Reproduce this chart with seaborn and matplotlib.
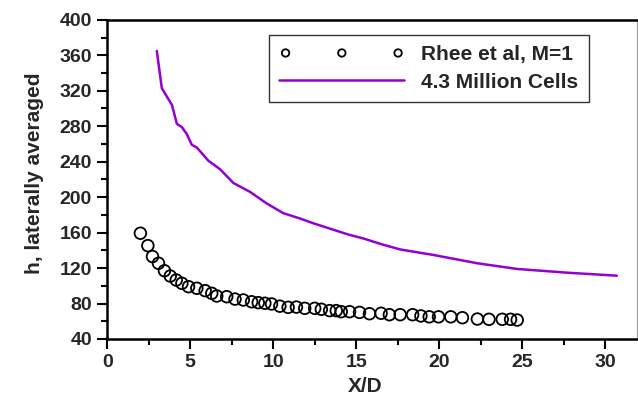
import matplotlib
matplotlib.use("Agg")
import matplotlib.pyplot as plt
import seaborn as sns
import pandas as pd
from matplotlib.ticker import MultipleLocator

sns.set_style("white")
plt.rcParams['font.family'] = ['Liberation Sans', 'DejaVu Sans']

# Experimental data (Rhee et al, M=1)
exp_x = [2.0, 2.45, 2.73, 3.09, 3.45, 3.8, 4.16, 4.5, 4.9, 5.4, 5.9, 6.3, 6.6, 7.2, 7.7,
         8.2, 8.7, 9.1, 9.5, 9.9, 10.4, 10.9, 11.4, 11.9, 12.5, 12.9, 13.4, 13.8, 14.1,
         14.6, 15.2, 15.8, 16.5, 17.0, 17.65, 18.4, 18.9, 19.4, 19.96, 20.7, 21.4, 22.3,
         23.0, 23.8, 24.3, 24.7]
exp_h = [159.3, 145.3, 133.0, 125.4, 117.0, 111.0, 106.5, 102.8, 99.0, 97.2, 94.5, 91.5,
         88.5, 87.7, 85.0, 84.0, 82.0, 81.0, 80.3, 79.5, 77.0, 75.7, 76.0, 74.6, 74.6,
         73.5, 72.0, 72.0, 70.8, 70.8, 70.0, 68.5, 69.0, 67.4, 67.4, 67.4, 66.0, 65.0,
         65.0, 65.0, 64.0, 62.5, 62.2, 62.2, 62.2, 61.4]

# Simulation (4.3 Million Cells)
sim_x = [2.99, 3.29, 3.9, 4.2, 4.5, 4.8, 5.1, 5.4, 6.1, 6.8, 7.6, 8.6, 9.6, 10.6, 11.6,
         12.5, 13.5, 14.5, 15.5, 16.5, 17.65, 19.65, 22.3, 24.7, 27.7, 30.7]
sim_h = [365, 323, 304, 282.6, 279, 271, 259, 256, 241, 231.5, 216, 206, 193, 182, 176,
         170, 164, 158, 153, 147, 141, 134.8, 125.4, 119, 114.8, 111.4]

exp_df = pd.DataFrame({"x": exp_x, "h": exp_h})
sim_df = pd.DataFrame({"x": sim_x, "h": sim_h})

fig = plt.figure(figsize=(6.38, 4.05), dpi=100)
ax = fig.add_axes([0.168, 0.163, 0.83, 0.788])

sns.scatterplot(data=exp_df, x="x", y="h", ax=ax, marker="o", s=70,
                facecolor="none", edgecolor="black", linewidth=1.3,
                label="Rhee et al, M=1", legend=False)
sns.lineplot(data=sim_df, x="x", y="h", ax=ax, color="#9400D3", linewidth=1.8,
             label="4.3 Million Cells", legend=False)

ax.set_xlim(0, 31.9)
ax.set_ylim(40, 400)
ax.xaxis.set_major_locator(MultipleLocator(5))
ax.xaxis.set_minor_locator(MultipleLocator(2.5))
ax.yaxis.set_major_locator(MultipleLocator(40))
ax.yaxis.set_minor_locator(MultipleLocator(20))
ax.tick_params(which="major", direction="out", length=7, width=1.5,
               labelsize=14, bottom=True, left=True, color="black", pad=4)
ax.tick_params(which="minor", direction="out", length=4, width=1.5,
               bottom=True, left=True, color="black")
for lab in ax.get_xticklabels() + ax.get_yticklabels():
    lab.set_fontweight("bold")

ax.set_xlabel("X/D", fontsize=15, fontweight="bold")
ax.set_ylabel("h, laterally averaged", fontsize=15, fontweight="bold")
ax.xaxis.set_label_coords(0.487, -0.12)
ax.yaxis.set_label_coords(-0.119, 0.52)

for side in ["left", "bottom", "top"]:
    ax.spines[side].set_color("black")
    ax.spines[side].set_linewidth(1.8)
ax.spines["right"].set_color("#999999")
ax.spines["right"].set_linewidth(0.8)

leg = ax.legend(loc="upper right", bbox_to_anchor=(0.909, 0.953), borderaxespad=0,
                frameon=True, fancybox=False, edgecolor="black", scatterpoints=3,
                markerscale=0.64, scatteryoffsets=[0.5], handlelength=6.0,
                handletextpad=0.8, prop={"weight": "bold", "size": 15},
                borderpad=0.5, labelspacing=0.4)
leg.get_frame().set_linewidth(1.0)

fig.savefig("out.png", dpi=100)
